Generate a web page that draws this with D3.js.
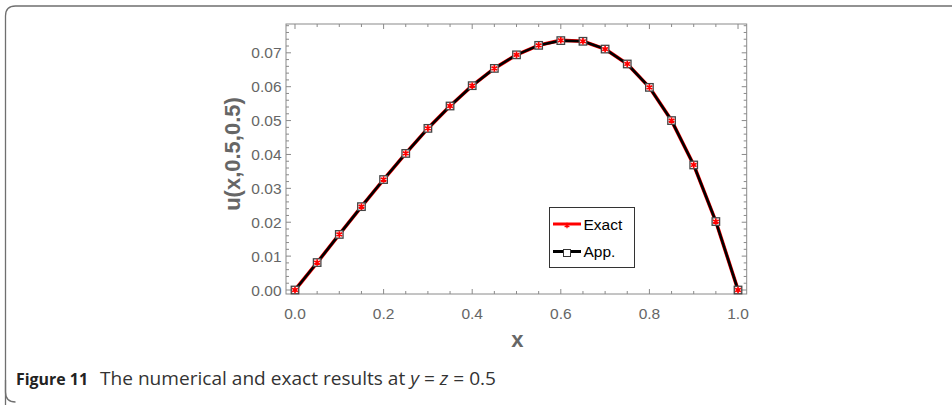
<!DOCTYPE html>
<html><head><meta charset="utf-8">
<script src="https://cdn.jsdelivr.net/npm/d3@7/dist/d3.min.js"></script>
<style>
html,body{margin:0;padding:0;background:#fff;}
svg{display:block;}
</style></head>
<body>
<svg id="chart" width="952" height="405"></svg>
<script>
const xValues = [0, 0.05, 0.1, 0.15, 0.2, 0.25, 0.3, 0.35, 0.4, 0.45, 0.5, 0.55, 0.6, 0.65, 0.7, 0.75, 0.8, 0.85, 0.9, 0.95, 1.0];
const exactValues = [0, 0.0081, 0.0164, 0.0246, 0.0326, 0.0403, 0.0477, 0.0543, 0.0603, 0.0654, 0.0694, 0.0722, 0.0737, 0.0734, 0.0711, 0.0667, 0.0598, 0.0500, 0.0369, 0.0202, 0];
const approxValues = [0, 0.0081, 0.0164, 0.0246, 0.0326, 0.0403, 0.0477, 0.0543, 0.0603, 0.0654, 0.0694, 0.0722, 0.0736, 0.0734, 0.0711, 0.0667, 0.0598, 0.0500, 0.0369, 0.0202, 0];
const xTicks = [0, 0.2, 0.4, 0.6, 0.8, 1.0];
const yTicks = [0, 0.01, 0.02, 0.03, 0.04, 0.05, 0.06, 0.07];
const seriesNames = ["Exact", "App."];
const xLabel = "x";
const yLabel = "u(x,0.5,0.5)";
const captionBold = "Figure 11";
const captionText = "The numerical and exact results at ";

const svg = d3.select("#chart");
const frame = {left: 286, right: 746.7, top: 24, bottom: 294};
const x = d3.scaleLinear().domain([-0.0203, 1.0196]).range([frame.left, frame.right]);
const y = d3.scaleLinear().domain([-0.00118, 0.0785]).range([frame.bottom, frame.top]);

// card border
svg.append("path")
  .attr("d", "M5.5,420 L5.5,16 Q5.5,6 15.5,6 L960,6")
  .attr("fill", "none").attr("stroke", "#6f6f6f").attr("stroke-width", 1.3);
svg.append("path")
  .attr("d", "M5.5,380 L5.5,392 Q5.5,402 15.5,402")
  .attr("fill", "none").attr("stroke", "#6f6f6f").attr("stroke-width", 1.3);

const frameColor = "#8a8a8a";
const tickLabelColor = "#666";

// frame
svg.append("rect")
  .attr("x", frame.left).attr("y", frame.top)
  .attr("width", frame.right - frame.left).attr("height", frame.bottom - frame.top)
  .attr("fill", "none").attr("stroke", frameColor).attr("stroke-width", 1);

// ticks
const xMinor = d3.range(0, 1.0001, 0.05);
const yMinor = d3.range(0, 0.0781, 0.002);
const tickG = svg.append("g").attr("stroke", frameColor).attr("stroke-width", 1);
function isMajor(v, arr){ return arr.some(t => Math.abs(t - v) < 1e-9); }
xMinor.forEach(v => {
  const len = isMajor(v, xTicks) ? 5 : 3;
  const px = x(v);
  tickG.append("line").attr("x1", px).attr("x2", px).attr("y1", frame.bottom).attr("y2", frame.bottom - len);
  tickG.append("line").attr("x1", px).attr("x2", px).attr("y1", frame.top).attr("y2", frame.top + len);
});
yMinor.forEach(v => {
  const len = isMajor(v, yTicks) ? 5 : 3;
  const py = y(v);
  tickG.append("line").attr("y1", py).attr("y2", py).attr("x1", frame.left).attr("x2", frame.left + len);
  tickG.append("line").attr("y1", py).attr("y2", py).attr("x1", frame.right).attr("x2", frame.right - len);
});

// tick labels
const tl = svg.append("g").attr("font-family", "Liberation Sans, Arial, sans-serif").attr("font-size", 15.5).attr("fill", tickLabelColor);
xTicks.forEach(v => {
  tl.append("text").attr("x", x(v)).attr("y", 319).attr("text-anchor", "middle").text(d3.format(".1f")(v));
});
yTicks.forEach(v => {
  tl.append("text").attr("x", 281.5).attr("y", y(v)).attr("dy", "0.36em").attr("text-anchor", "end").text(d3.format(".2f")(v));
});

// axis labels
svg.append("text").attr("x", (frame.left + frame.right) / 2 + 1).attr("y", 347)
  .attr("text-anchor", "middle").attr("font-family", "Liberation Sans, Arial, sans-serif")
  .attr("font-weight", "bold").attr("font-size", 22).attr("fill", tickLabelColor).text(xLabel);
svg.append("text").attr("transform", "translate(240,154) rotate(-90)")
  .attr("text-anchor", "middle").attr("font-family", "Liberation Sans, Arial, sans-serif")
  .attr("font-weight", "bold").attr("font-size", 22).attr("fill", tickLabelColor).text(yLabel);

// lines
const exactData = xValues.map((v, i) => [v, exactValues[i]]);
const approxData = xValues.map((v, i) => [v, approxValues[i]]);
const line = d3.line().x(d => x(d[0])).y(d => y(d[1]));
svg.append("path").datum(exactData).attr("d", line).attr("fill", "none").attr("stroke", "#ff0000").attr("stroke-width", 3.6).attr("stroke-linejoin", "round");
svg.append("path").datum(approxData).attr("d", line).attr("fill", "none").attr("stroke", "#000").attr("stroke-width", 2.6).attr("stroke-linejoin", "round");

// markers
const sq = 7.5;
svg.append("g").selectAll("rect").data(approxData).join("rect")
  .attr("x", d => x(d[0]) - sq / 2).attr("y", d => y(d[1]) - sq / 2)
  .attr("width", sq).attr("height", sq)
  .attr("fill", "#fff").attr("stroke", "#444").attr("stroke-width", 1.3);
const star = d3.symbol(d3.symbolAsterisk, 30);
svg.append("g").selectAll("path").data(exactData).join("path")
  .attr("transform", d => `translate(${x(d[0])},${y(d[1])})`)
  .attr("d", star).attr("fill", "none").attr("stroke", "#ff0000").attr("stroke-width", 1.7);

// legend
const lg = svg.append("g");
lg.append("rect").attr("x", 549.5).attr("y", 207.5).attr("width", 85).attr("height", 60)
  .attr("fill", "#fff").attr("stroke", "#333").attr("stroke-width", 1);
const legendRows = [
  {name: seriesNames[0], y: 224, color: "#ff0000", marker: "star"},
  {name: seriesNames[1], y: 251.5, color: "#000", marker: "square"}
];
legendRows.forEach(r => {
  lg.append("line").attr("x1", 553).attr("x2", 581).attr("y1", r.y).attr("y2", r.y)
    .attr("stroke", r.color).attr("stroke-width", 3);
  if (r.marker === "star") {
    lg.append("path").attr("transform", `translate(567,${r.y + 1.5})`).attr("d", d3.symbol(d3.symbolAsterisk, 20))
      .attr("fill", "none").attr("stroke", "#ff0000").attr("stroke-width", 1.3);
  } else {
    lg.append("rect").attr("x", 567 - 3.5).attr("y", r.y + 1.5 - 3.5).attr("width", 7).attr("height", 7)
      .attr("fill", "#fff").attr("stroke", "#333").attr("stroke-width", 1);
  }
  lg.append("text").attr("x", 583.5).attr("y", r.y).attr("dy", "0.36em")
    .attr("font-family", "Liberation Sans, Arial, sans-serif").attr("font-size", 15.5).attr("fill", "#000").text(r.name);
});

// caption
svg.append("text").attr("x", 16).attr("y", 385)
  .attr("font-family", "Open Sans, Noto Sans, sans-serif").attr("font-size", 16.5).attr("font-weight", "bold")
  .attr("fill", "#222").attr("textLength", 72).attr("lengthAdjust", "spacingAndGlyphs").text(captionBold);
const cap = svg.append("text").attr("x", 100).attr("y", 385)
  .attr("font-family", "Open Sans, Noto Sans, sans-serif").attr("font-size", 17.5)
  .attr("fill", "#333").attr("textLength", 396).attr("lengthAdjust", "spacingAndGlyphs");
cap.append("tspan").text(captionText);
cap.append("tspan").attr("font-style", "italic").text("y");
cap.append("tspan").text(" = ");
cap.append("tspan").attr("font-style", "italic").text("z");
cap.append("tspan").text(" = 0.5");
</script>
</body></html>
